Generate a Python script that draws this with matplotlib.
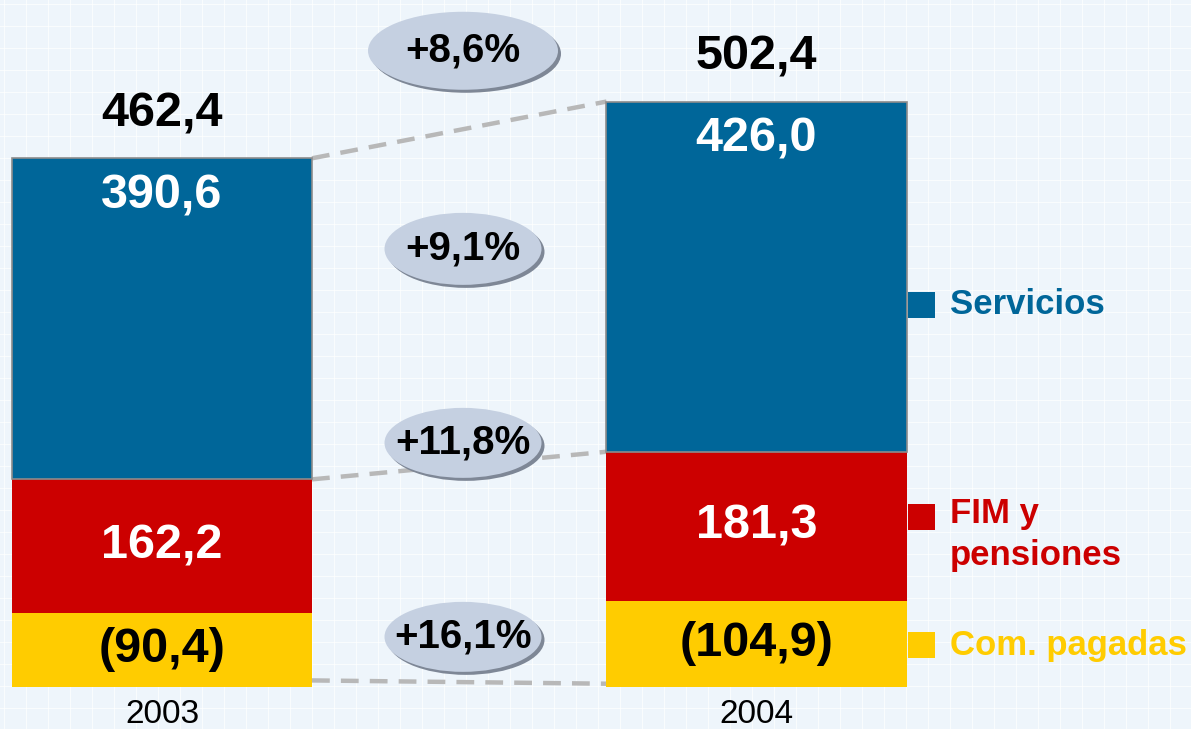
import matplotlib.pyplot as plt
from matplotlib.patches import Ellipse
import numpy as np

plt.rcParams['font.family'] = ['Liberation Sans', 'DejaVu Sans']

# data
years = ["2003", "2004"]
com_pagadas = [90.4, 104.9]
fim_pensiones = [162.2, 181.3]
servicios = [390.6, 426.0]
totals = [462.4, 502.4]
var_labels = ["+8,6%", "+9,1%", "+11,8%", "+16,1%"]
series_names = ["Servicios", "FIM y\npensiones", "Com. pagadas"]

c_blue = "#006699"
c_red = "#CC0000"
c_yellow = "#FFCC00"
bg = "#EEF5FB"

fig = plt.figure(figsize=(11.91, 7.29), dpi=100, facecolor=bg)

# faint background grid
bgax = fig.add_axes([0, 0, 1, 1])
bgax.set_xlim(0, 1191)
bgax.set_ylim(729, 0)
for gx in np.arange(4, 1191, 22):
    bgax.axvline(gx, color="white", lw=0.8, alpha=0.7)
for gy in np.arange(4, 729, 22):
    bgax.axhline(gy, color="white", lw=0.8, alpha=0.7)
bgax.set_facecolor(bg)
bgax.axis("off")

# px per unit: x 594.5 per category, y 0.822 per value
sx, sy = 594.5, 0.822
ax = fig.add_axes([0, 0, 1, 1])
ax.patch.set_alpha(0)
ax.set_xlim(-162 / sx, (1191 - 162) / sx)
ax.set_ylim(-(729 - 687) / sy, 687 / sy)
ax.axis("off")

x = np.arange(len(years))
w = 300 / sx
com = np.array(com_pagadas)
fim = np.array(fim_pensiones)
ser = np.array(servicios)

ax.bar(x, com, w, color=c_yellow, zorder=2)
ax.bar(x, fim, w, bottom=com, color=c_red, zorder=2)
ax.bar(x, ser, w, bottom=com + fim, color=c_blue, edgecolor="#8C8C8C", lw=1.2, zorder=2)

fs = 35
for i in range(len(years)):
    top = com[i] + fim[i] + ser[i]
    ax.text(x[i], top - 46, f"{ser[i]:.1f}".replace(".", ","), ha="center", va="center",
            color="white", fontsize=fs, fontweight="bold", zorder=3)
    ax.text(x[i], com[i] + fim[i] / 2, f"{fim[i]:.1f}".replace(".", ","), ha="center",
            va="center", color="white", fontsize=fs, fontweight="bold", zorder=3)
    ax.text(x[i], com[i] / 2, f"({com[i]:.1f})".replace(".", ","), ha="center",
            va="center", color="black", fontsize=fs, fontweight="bold", zorder=3)
    ax.text(x[i], top + 54, f"{totals[i]:.1f}".replace(".", ","), ha="center",
            va="center", color="black", fontsize=fs, fontweight="bold", zorder=3)
    ax.text(x[i], -34, years[i], ha="center", va="center", color="black", fontsize=24)

# dashed connectors
xr, xl = x[0] + w / 2, x[1] - w / 2
tops0 = [com[0] + fim[0] + ser[0], com[0] + fim[0], 8]
tops1 = [com[1] + fim[1] + ser[1], com[1] + fim[1], 4]
for a, b in zip(tops0, tops1):
    ax.plot([xr, xl], [a, b], ls=(0, (4, 2.5)), color="#B8B8B8", lw=3.2, zorder=1)

# growth ellipses
ell_y = [774, 533, 297, 61]
ell_w = [190, 157, 157, 157]
ell_h = [78, 72, 70, 70]
xc = (463 - 162) / sx
for lab, ey, ew, eh in zip(var_labels, ell_y, ell_w, ell_h):
    ax.add_patch(Ellipse((xc + 3 / sx, ey - 3 / sy), ew / sx, eh / sy,
                         facecolor="#7E8796", edgecolor="none", zorder=4))
    ax.add_patch(Ellipse((xc, ey), ew / sx, eh / sy,
                         facecolor="#C5D0E1", edgecolor="none", zorder=5))
    ax.text(xc, ey, lab, ha="center", va="center", fontsize=29,
            fontweight="bold", color="black", zorder=6)

# legend
leg_x = (908 - 162) / sx
leg_items = [(c_blue, 465), (c_red, 207), (c_yellow, 51)]
for (col, ly), name in zip(leg_items, series_names):
    ax.add_patch(plt.Rectangle((leg_x, ly - 13 / sy), 27 / sx, 26 / sy,
                               facecolor=col, edgecolor="none", zorder=3))
    va = "top" if "\n" in name else "center"
    yy = ly + 20 / sy if "\n" in name else ly
    ax.text(leg_x + 42 / sx, yy, name, ha="left", va=va, color=col,
            fontsize=25, fontweight="bold", linespacing=1.35, zorder=3)

fig.savefig("out.png", dpi=100, facecolor=bg)
